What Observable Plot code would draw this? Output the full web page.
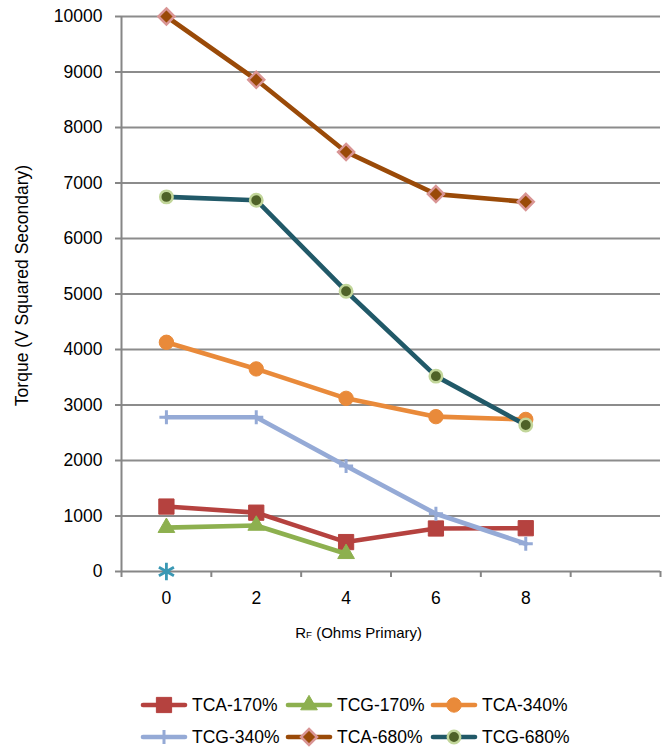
<!DOCTYPE html>
<html>
<head>
<meta charset="utf-8">
<script src="https://cdn.jsdelivr.net/npm/d3@7"></script>
<script src="https://cdn.jsdelivr.net/npm/@observablehq/plot@0.6"></script>
<style>
  body { margin: 0; background: #fff; font-family: "Liberation Sans", Arial, sans-serif; }
  #chart svg { display: block; }
  .legend { display: grid; grid-template-columns: repeat(3, 145px); row-gap: 8px; margin: 43px 0 0 140px; font-size: 17.5px; color: #000; }
  .legend .item { display: flex; align-items: center; height: 24px; white-space: nowrap; }
  .legend svg { margin-right: 4px; }
</style>
</head>
<body>
<div id="chart"></div>
<div class="legend" id="legend"></div>
<script>
// ---- data ----
const rfValues = [0, 2, 4, 6, 8];
const yTickValues = [0, 1000, 2000, 3000, 4000, 5000, 6000, 7000, 8000, 9000, 10000];
const seriesNames = ["TCA-170%", "TCG-170%", "TCA-340%", "TCG-340%", "TCA-680%", "TCG-680%"];
const tca170 = [1170, 1060, 530, 775, 780];
const tcg170 = [790, 830, 320];
const tca340 = [4130, 3650, 3120, 2790, 2740];
const tcg340 = [2780, 2780, 1900, 1040, 500];
const tca680 = [10000, 8860, 7560, 6800, 6660];
const tcg680 = [6750, 6690, 5050, 3520, 2640];
const strayRf = [0];
const strayTorque = [0];

// ---- styles (not data) ----
const styles = {
  "TCA-170%": {line: "#B5423F", symbol: "square", r: 8.6, fill: "#B5423F", stroke: "#B5423F", sw: 1},
  "TCG-170%": {line: "#8DB04F", symbol: "triangle", r: 6.2, fill: "#8DB04F", stroke: "#8DB04F", sw: 1},
  "TCA-340%": {line: "#E98A3A", symbol: "circle", r: 7.2, fill: "#E98A3A", stroke: "#E98A3A", sw: 1},
  "TCG-340%": {line: "#95AAD6", symbol: "plus", r: 4.6, fill: "none", stroke: "#95AAD6", sw: 3},
  "TCA-680%": {line: "#9A4A08", symbol: "diamond2", r: 7.2, fill: "#9A4A08", stroke: "#D99594", sw: 2.5},
  "TCG-680%": {line: "#215968", symbol: "circle", r: 6.2, fill: "#4F6228", stroke: "#C2D69A", sw: 2.5}
};

const seriesValues = [tca170, tcg170, tca340, tcg340, tca680, tcg680];
const table = [];
seriesNames.forEach((name, i) => {
  seriesValues[i].forEach((v, j) => table.push({series: name, rf: rfValues[j], torque: v}));
});
const stray = strayRf.map((x, i) => ({rf: x, torque: strayTorque[i]}));

const FS = 17.5;
const marks = [
  Plot.ruleY(yTickValues.slice(1), {stroke: "#8C8C8C", strokeWidth: 2}),
  Plot.ruleX([-1], {stroke: "#868686", strokeWidth: 2}),
  Plot.ruleY([0], {stroke: "#868686", strokeWidth: 2}),
  Plot.axisY({ticks: yTickValues, tickSize: 6, tickPadding: 13, tickFormat: d => String(d), stroke: "#868686", strokeWidth: 2, fontSize: FS, label: null}),
  Plot.axisX({ticks: [-1, 1, 3, 5, 7, 9, 11], tickSize: 6, tickFormat: () => "", stroke: "#868686", strokeWidth: 2, label: null}),
  Plot.axisX({ticks: rfValues, tickSize: 0, tickPadding: 20, tickFormat: d => String(d), fontSize: FS, label: null})
];
seriesNames.forEach(name => {
  const s = styles[name];
  const d = table.filter(r => r.series === name);
  marks.push(Plot.line(d, {x: "rf", y: "torque", stroke: s.line, strokeWidth: 4.6}));
  marks.push(Plot.dot(d, {x: "rf", y: "torque", symbol: () => s.symbol, r: s.r, fill: s.fill, stroke: s.stroke, strokeWidth: s.sw}));
});
marks.push(Plot.dot(stray, {x: "rf", y: "torque", symbol: "asterisk", r: 8.2, stroke: "#3A98B4", strokeWidth: 2.8}));

const chart = Plot.plot({
  width: 663,
  height: 650,
  marginLeft: 121,
  marginRight: 3,
  marginTop: 16,
  marginBottom: 79,
  style: {fontFamily: "'Liberation Sans', Arial, sans-serif", fontSize: FS + "px", color: "#000", background: "#fff"},
  x: {type: "linear", domain: [-1, 11]},
  y: {type: "linear", domain: [0, 10000]},
  symbol: {type: "identity"},
  marks
});
document.getElementById("chart").appendChild(chart);

// axis titles
const svg = d3.select(chart);
const xs = chart.scale("x"), ys = chart.scale("y");
const XT = 15, YT = 17.5;
const xl = svg.append("text")
  .attr("x", xs.apply(4) + 13).attr("y", 638)
  .attr("text-anchor", "middle").attr("font-size", XT).attr("fill", "#000");
xl.append("tspan").text("R");
xl.append("tspan").attr("font-size", XT * 0.65).text("F");
xl.append("tspan").text(" (Ohms Primary)");
svg.append("text")
  .attr("transform", `translate(28,${(ys.apply(0) + ys.apply(10000)) / 2 - 8}) rotate(-90)`)
  .attr("text-anchor", "middle").attr("font-size", YT).attr("fill", "#000")
  .text("Torque (V Squared Secondary)");

// legend
const legend = d3.select("#legend");
const symMap = {square: d3.symbolSquare, triangle: d3.symbolTriangle, circle: d3.symbolCircle, plus: d3.symbolPlus, diamond2: d3.symbolDiamond2};
seriesNames.forEach(name => {
  const s = styles[name];
  const item = legend.append("div").attr("class", "item");
  const sw = item.append("svg").attr("width", 48).attr("height", 20);
  sw.append("line").attr("x1", 3).attr("x2", 45).attr("y1", 10).attr("y2", 10)
    .attr("stroke", s.line).attr("stroke-width", 4.6).attr("stroke-linecap", "round");
  const size = s.r * s.r * Math.PI;
  sw.append("path").attr("transform", "translate(24,10)")
    .attr("d", d3.symbol(symMap[s.symbol], size)())
    .attr("fill", s.fill).attr("stroke", s.stroke).attr("stroke-width", s.sw);
  item.append("span").text(name);
});
</script>
</body>
</html>
